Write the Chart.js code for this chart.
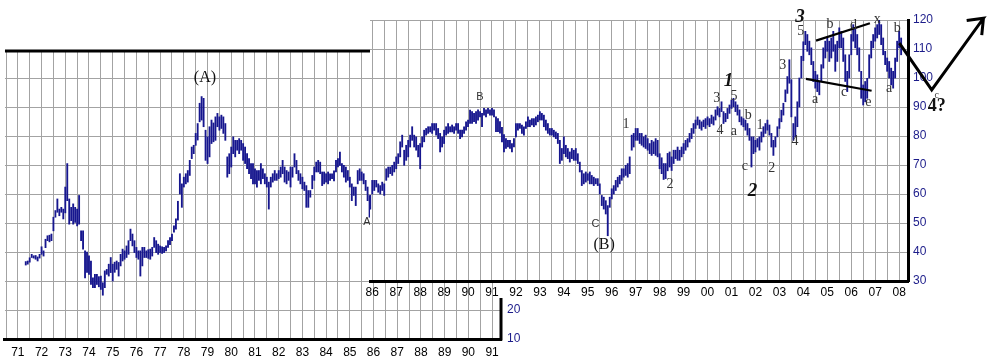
<!DOCTYPE html>
<html>
<head>
<meta charset="utf-8">
<script src="https://cdn.jsdelivr.net/npm/chart.js@4.4.1/dist/chart.umd.min.js"></script>
<style>
  html, body { margin: 0; padding: 0; background: #fff; }
  #wrap { position: relative; width: 989px; height: 357px; overflow: hidden; }
  #left { position: absolute; left: 0; top: 0; }
  #right { position: absolute; left: 360px; top: 0; }
</style>
</head>
<body>
<div id="wrap">
  <canvas id="left" width="545" height="357"></canvas>
  <canvas id="right" width="629" height="300"></canvas>
</div>
<script>
// monthly bars, first one is May 1971 (month index 4 from Jan 1971)
const firstYear = 1971;
const firstMonth = 4;
const leftLastMonth = 186;

const lows = [
  35.5, 35.8, 36.5, 38.1, 37.9, 37.5, 36.9, 37.9,
  39.2, 38.6, 41.5, 43.9, 43.5, 43.9, 47.3, 52.0, 53.7, 52.5, 53.7, 51.4,
  53.5, 57.7, 49.6, 50.8, 49.6, 50.2, 49.0, 49.6, 43.9, 41.0, 31.1, 33.0,
  32.3, 28.8, 27.7, 27.7, 28.8, 28.0, 27.1, 25.1, 27.7, 32.3, 31.7, 32.9,
  30.0, 33.0, 34.0, 31.7, 35.2, 36.9, 37.5, 38.1, 39.2, 43.9, 42.1, 39.8,
  38.1, 37.5, 31.7, 35.2, 38.1, 38.1, 37.8, 37.5, 38.6, 41.6, 39.8, 39.2,
  39.8, 39.5, 39.8, 40.4, 41.6, 42.5, 43.9, 46.8, 47.9, 51.0, 60.0, 55.4,
  62.4, 63.5, 64.1, 66.4, 72.2, 73.9, 76.8, 78.6, 84.9, 85.5, 83.2, 71.6,
  70.5, 72.8, 77.4, 78.0, 78.5, 83.2, 82.0, 82.6, 80.9, 78.5, 65.8, 67.0,
  69.3, 73.9, 72.8, 75.1, 73.9, 75.1, 71.6, 70.5, 68.7, 67.0, 65.3, 63.5,
  63.5, 62.4, 64.7, 63.5, 65.3, 63.5, 62.4, 54.8, 62.4, 64.1, 64.7, 64.7,
  65.3, 65.8, 67.0, 64.1, 63.5, 64.7, 62.4, 65.8, 69.3, 67.0, 64.7, 63.5,
  61.8, 61.2, 55.4, 55.4, 58.9, 61.8, 64.7, 67.6, 67.6, 67.0, 62.9, 63.5,
  64.1, 63.5, 64.7, 65.3, 64.5, 67.6, 69.3, 69.9, 67.6, 65.8, 64.1, 64.7,
  62.4, 57.7, 59.5, 56.0, 63.5, 64.7, 64.7, 63.5, 61.2, 57.7, 52.0, 54.8,
  60.0, 61.2, 62.4, 60.6, 60.0, 61.2, 59.5, 64.7, 65.8, 67.0, 66.4, 67.6,
  68.7, 70.5, 72.8, 76.2, 69.9, 71.6, 72.8, 76.2, 78.5, 76.2, 75.1, 72.8,
  68.7, 76.2, 78.0, 80.3, 80.9, 81.4, 80.9, 82.0, 80.3, 79.1, 74.5, 76.2,
  77.4, 80.3, 80.9, 81.4, 81.4, 80.9, 82.0, 80.9, 79.1, 79.7, 80.9, 82.0,
  83.2, 84.3, 84.3, 84.9, 84.3, 85.5, 86.6, 83.2, 87.2, 86.6, 87.8, 87.2,
  87.2, 86.6, 81.5, 81.5, 81.0, 78.0, 74.5, 75.7, 76.2, 75.7, 74.5, 76.2,
  79.7, 82.0, 82.6, 80.9, 80.3, 82.6, 83.2, 83.2, 83.8, 83.2, 83.8, 84.9,
  85.5, 85.5, 83.2, 82.0, 80.9, 80.3, 80.3, 79.7, 79.1, 77.4, 70.5, 71.6,
  73.9, 72.8, 72.2, 71.0, 72.2, 71.6, 71.6, 70.5, 67.6, 62.9, 63.5, 64.1,
  64.7, 63.5, 63.5, 62.9, 63.5, 62.9, 60.0, 56.0, 54.8, 53.1, 45.6, 55.4,
  58.3, 60.0, 61.2, 62.4, 63.5, 64.7, 65.8, 66.4, 65.8, 67.0, 75.1, 76.2,
  78.5, 78.5, 77.4, 76.8, 76.2, 75.7, 75.1, 73.9, 73.3, 73.9, 73.3, 72.8,
  68.7, 67.0, 65.0, 65.3, 68.0, 69.3, 68.1, 70.5, 72.2, 71.6, 71.6, 72.8,
  73.9, 75.1, 76.2, 77.9, 79.1, 80.9, 82.6, 83.8, 82.6, 82.0, 83.2, 82.6,
  83.8, 83.2, 84.3, 83.8, 85.5, 87.2, 86.6, 88.4, 84.3, 84.9, 86.0, 87.8,
  89.5, 90.1, 88.4, 87.2, 84.9, 83.8, 83.2, 82.0, 80.3, 78.5, 69.3, 73.9,
  74.5, 76.2, 75.1, 77.9, 79.7, 80.9, 82.0, 80.3, 76.2, 73.3, 76.2, 79.7,
  82.6, 84.9, 87.2, 91.8, 94.7, 98.2, 86.6, 78.5, 79.7, 83.2, 90.0, 100.0,
  106.0, 111.5, 109.2, 108.0, 104.6, 98.8, 96.5, 95.3, 94.2, 98.8, 103.4, 106.9,
  109.2, 105.7, 106.9, 109.2, 102.3, 105.7, 110.4, 110.4, 105.7, 98.8, 95.3, 100.0,
  108.0, 112.7, 110.4, 108.0, 102.3, 93.0, 90.7, 91.8, 93.0, 100.0, 106.9, 110.4,
  112.7, 113.8, 115.0, 111.5, 108.0, 104.6, 102.3, 100.0, 97.6, 96.5, 100.0, 105.7,
  110.4, 108.0
];

const highs = [
  36.7, 36.9, 38.0, 39.2, 38.7, 38.8, 38.3, 39.2,
  41.8, 40.4, 44.4, 45.6, 45.8, 46.2, 52.0, 54.3, 58.3, 54.8, 55.4, 54.8,
  62.4, 70.5, 58.3, 55.4, 56.6, 55.4, 54.8, 59.5, 47.3, 47.3, 40.4, 40.0,
  38.7, 36.9, 31.1, 32.3, 32.3, 31.5, 31.7, 29.4, 33.5, 34.0, 35.8, 38.1,
  35.8, 36.5, 36.9, 36.4, 39.2, 41.0, 40.4, 42.1, 43.9, 47.9, 46.2, 43.9,
  41.6, 40.4, 40.4, 41.6, 41.6, 40.4, 40.8, 41.0, 41.6, 45.0, 43.9, 42.7,
  42.1, 41.8, 41.6, 42.1, 43.9, 45.0, 46.2, 49.0, 51.4, 57.5, 67.0, 63.5,
  65.8, 67.0, 68.1, 71.6, 76.2, 76.8, 80.9, 84.3, 91.3, 93.6, 93.0, 82.0,
  79.7, 83.2, 85.5, 84.5, 86.6, 87.8, 86.6, 87.2, 86.6, 84.3, 72.8, 73.9,
  76.2, 79.7, 78.5, 78.5, 79.1, 78.5, 77.4, 76.2, 73.9, 72.2, 70.5, 70.5,
  68.7, 68.1, 68.1, 70.5, 68.7, 67.0, 65.8, 64.1, 65.8, 67.0, 68.1, 67.0,
  68.1, 69.3, 71.6, 69.3, 68.1, 67.6, 69.3, 69.3, 73.9, 71.6, 68.1, 67.0,
  65.8, 64.1, 62.9, 61.2, 61.2, 66.4, 69.3, 71.0, 71.6, 71.0, 67.6, 67.6,
  67.0, 67.6, 67.0, 67.0, 68.0, 71.6, 72.2, 74.5, 70.5, 69.9, 69.3, 68.1,
  65.8, 63.5, 62.4, 62.4, 68.1, 68.7, 67.6, 67.0, 64.7, 62.4, 59.5, 59.5,
  64.7, 64.7, 64.7, 63.5, 62.9, 64.1, 63.5, 68.7, 69.3, 69.3, 69.9, 71.0,
  72.8, 73.9, 78.0, 80.3, 75.1, 76.8, 78.5, 80.3, 83.2, 80.3, 79.7, 76.8,
  77.4, 79.7, 82.0, 82.6, 83.2, 83.2, 84.3, 84.3, 84.3, 82.6, 80.9, 79.7,
  82.0, 83.2, 84.3, 83.2, 83.8, 83.2, 84.3, 84.3, 82.0, 82.0, 83.2, 84.9,
  85.5, 88.9, 88.4, 87.8, 88.4, 89.0, 88.4, 87.8, 89.5, 89.0, 89.5, 89.0,
  89.5, 89.0, 86.6, 86.0, 85.0, 83.0, 80.5, 79.1, 78.5, 78.5, 77.4, 79.1,
  84.3, 84.3, 84.3, 83.8, 83.2, 84.9, 86.6, 85.5, 86.0, 86.0, 86.6, 87.2,
  88.4, 87.8, 87.2, 85.5, 84.3, 82.6, 82.6, 82.0, 81.4, 80.9, 78.5, 75.7,
  79.7, 76.8, 75.7, 74.5, 75.7, 75.1, 75.7, 73.9, 71.0, 68.1, 67.0, 67.6,
  67.0, 67.6, 66.4, 65.8, 65.3, 65.3, 63.5, 59.5, 58.9, 57.7, 56.0, 58.9,
  61.8, 62.9, 64.7, 65.8, 66.4, 68.7, 68.7, 69.9, 70.5, 72.8, 80.3, 80.9,
  82.6, 82.6, 80.9, 80.9, 79.7, 80.3, 79.1, 77.4, 78.5, 78.0, 79.1, 78.5,
  73.9, 72.5, 70.5, 70.5, 74.0, 74.5, 72.8, 75.1, 75.1, 76.2, 75.1, 76.2,
  77.4, 78.5, 79.1, 80.9, 82.6, 84.3, 85.5, 86.6, 85.5, 84.9, 85.5, 86.0,
  86.6, 86.0, 87.2, 86.6, 89.0, 90.1, 89.5, 91.8, 88.4, 87.8, 89.5, 90.7,
  92.4, 93.0, 91.8, 90.7, 89.0, 86.6, 86.0, 85.5, 84.3, 82.6, 79.7, 79.7,
  78.5, 79.1, 79.7, 81.4, 83.2, 84.3, 85.5, 83.8, 80.9, 78.5, 79.7, 83.2,
  86.0, 88.9, 91.3, 95.9, 100.5, 106.3, 99.4, 84.3, 86.6, 91.8, 100.0, 107.5,
  112.5, 116.1, 115.0, 112.7, 110.4, 105.7, 102.3, 101.1, 98.8, 104.6, 110.4, 112.7,
  113.8, 112.7, 113.8, 116.1, 111.5, 112.7, 117.3, 116.1, 113.8, 108.0, 102.3, 108.0,
  115.0, 118.4, 117.3, 115.0, 110.4, 102.3, 97.6, 98.8, 99.9, 108.0, 112.7, 115.0,
  117.3, 118.4, 120.2, 118.4, 113.8, 109.2, 106.9, 105.7, 103.4, 102.3, 106.9, 112.7,
  116.1, 113.8
];

const leftYearLabels = ['71', '72', '73', '74', '75', '76', '77', '78', '79', '80', '81',
  '82', '83', '84', '85', '86', '87', '88', '89', '90', '91'];
const rightYearLabels = ['86', '87', '88', '89', '90', '91', '92', '93', '94', '95', '96', '97',
  '98', '99', '00', '01', '02', '03', '04', '05', '06', '07', '08'];
const rightPriceLabels = [30, 40, 50, 60, 70, 80, 90, 100, 110, 120];
const leftPriceLabels = [10, 20];

// trend lines and the projected path, in (year, price)
const triangleTop = [{ x: 2004.53, y: 112.9 }, { x: 2006.78, y: 118.9 }];
const triangleBottom = [{ x: 2004.11, y: 99.7 }, { x: 2006.85, y: 95.6 }];
const projection = [
  { x: 2008.01, y: 112.0 }, { x: 2009.36, y: 95.9 }, { x: 2011.52, y: 120.6 },
  { x: 2010.82, y: 119.8 }, { x: 2011.52, y: 120.6 }, { x: 2011.45, y: 114.8 }
];

// wave labels: text, year, price, kind
const leftLabels = [
  ['(A)', 1978.89, 100.0, 'paren'],
  ['A', 1985.72, 50.2, 'sans']
];
const rightLabels = [
  ['B', 1990.50, 93.6, 'sans'],
  ['1', 1996.59, 84.0, 'wave'],
  ['C', 1995.32, 49.8, 'sans'],
  ['(B)', 1995.68, 42.6, 'paren'],
  ['2', 1998.43, 63.4, 'wave'],
  ['3', 2000.38, 93.0, 'wave'],
  ['1', 2000.87, 99.1, 'big'],
  ['5', 2001.10, 93.8, 'wave'],
  ['4', 2000.52, 82.1, 'wave'],
  ['a', 2001.10, 81.5, 'wave'],
  ['b', 2001.70, 87.2, 'wave'],
  ['1', 2002.19, 83.8, 'wave'],
  ['c', 2001.56, 69.7, 'wave'],
  ['2', 2002.68, 68.9, 'wave'],
  ['2', 2001.88, 61.1, 'big'],
  ['3', 2003.14, 104.5, 'wave'],
  ['4', 2003.65, 78.0, 'wave'],
  ['3', 2003.86, 121.1, 'big'],
  ['5', 2003.89, 116.0, 'wave'],
  ['b', 2005.11, 118.5, 'wave'],
  ['d', 2006.09, 118.0, 'wave'],
  ['x', 2007.09, 120.3, 'wave'],
  ['b', 2007.92, 117.1, 'wave'],
  ['a', 2004.49, 92.8, 'wave'],
  ['c', 2005.70, 95.1, 'wave'],
  ['e', 2006.71, 91.6, 'wave'],
  ['a', 2007.58, 96.4, 'wave'],
  ['c', 2009.57, 94.1, 'tiny'],
  ['4?', 2009.57, 90.1, 'question']
];

const labelFonts = {
  paren: '16px "Liberation Serif", serif',
  sans: '11px "Liberation Sans", sans-serif',
  wave: '14px "Liberation Serif", serif',
  big: 'italic bold 19px "Liberation Serif", serif',
  tiny: '10px "Liberation Serif", serif',
  question: 'bold 18px "Liberation Serif", serif'
};
const labelColors = { paren: '#111', sans: '#333', wave: '#333', big: '#111', tiny: '#444', question: '#111' };

const barColor = '#16168e';
const gridColor = '#a3a3a3';
const tickFont = { family: "'Liberation Sans', Arial, sans-serif", size: 12 };

const bars = lows.map((lo, i) => ({ x: firstYear + (firstMonth + i) / 12, y: [lo, highs[i]] }));
const leftBars = bars.filter(p => p.x <= firstYear + leftLastMonth / 12);

function stepTicks(from, to, step) {
  const out = [];
  for (let v = from; v <= to + 1e-9; v += step) out.push({ value: v });
  return out;
}

function yearLabel(list, startYear) {
  return v => {
    if (Math.abs(v - Math.round(v)) > 1e-6) return '';
    return list[Math.round(v) - startYear] || '';
  };
}

function labelPlugin(list) {
  return {
    id: 'waveLabels',
    afterDraw(chart) {
      const { ctx } = chart;
      const x = chart.scales.x, y = chart.scales.y;
      ctx.save();
      ctx.textAlign = 'center';
      ctx.textBaseline = 'middle';
      list.forEach(([text, xv, yv, kind]) => {
        ctx.font = labelFonts[kind];
        ctx.fillStyle = labelColors[kind];
        ctx.fillText(text, x.getPixelForValue(xv), y.getPixelForValue(yv));
      });
      ctx.restore();
    }
  };
}

const leftFrame = {
  id: 'leftFrame',
  afterDraw(chart) {
    const { ctx, chartArea: a } = chart;
    ctx.save();
    ctx.strokeStyle = '#000';
    ctx.lineWidth = 3;
    ctx.beginPath();
    ctx.moveTo(a.left, a.top + 1);
    ctx.lineTo(a.right, a.top + 1);
    ctx.moveTo(a.right, a.bottom - 41);
    ctx.lineTo(a.right, a.bottom + 1.5);
    ctx.stroke();
    ctx.restore();
  }
};

const whiteArea = {
  id: 'whiteArea',
  beforeDraw(chart) {
    const { ctx, chartArea: a } = chart;
    ctx.save();
    ctx.fillStyle = '#fff';
    ctx.fillRect(a.left, a.top, a.right - a.left, a.bottom - a.top);
    ctx.restore();
  }
};

// older chart, 1971-1991
new Chart(document.getElementById('left'), {
  type: 'bar',
  data: {
    datasets: [{
      data: leftBars,
      backgroundColor: barColor,
      barThickness: 1.2,
      grouped: false
    }]
  },
  options: {
    responsive: false,
    animation: false,
    layout: { padding: { left: 0, top: 50, right: 0, bottom: 0 }, autoPadding: false },
    plugins: { legend: { display: false }, tooltip: { enabled: false } },
    scales: {
      x: {
        type: 'linear',
        min: 1970.457,
        max: 1991.376,
        offset: false,
        grid: { color: gridColor, drawTicks: false, offset: false },
        border: { display: true, color: '#000', width: 3 },
        afterBuildTicks: s => { s.ticks = stepTicks(1970.5, 1991, 0.5); },
        afterFit: s => { s.height = 18; },
        ticks: { autoSkip: false, maxRotation: 0, padding: 6, color: '#000', font: tickFont,
          callback: yearLabel(leftYearLabels, 1971) }
      },
      y: {
        position: 'right',
        min: 10,
        max: 109.66,
        grid: { color: gridColor, drawTicks: false },
        border: { display: false },
        afterBuildTicks: s => { s.ticks = stepTicks(10, 105, 5); },
        afterFit: s => { s.width = 44; },
        ticks: { padding: 6, color: '#1c1c8a', font: tickFont,
          callback: v => leftPriceLabels.includes(v) ? String(v) : '' }
      }
    }
  },
  plugins: [leftFrame, labelPlugin(leftLabels)]
});

// newer chart, 1986-2008, laid over the first
new Chart(document.getElementById('right'), {
  type: 'bar',
  data: {
    datasets: [
      { type: 'bar', data: bars, backgroundColor: barColor, barThickness: 1.2, grouped: false, order: 2 },
      { type: 'line', data: triangleTop, borderColor: '#000', borderWidth: 2.2, pointRadius: 0, order: 1 },
      { type: 'line', data: triangleBottom, borderColor: '#000', borderWidth: 2.2, pointRadius: 0, order: 1 },
      { type: 'line', data: projection, borderColor: '#000', borderWidth: 3, pointRadius: 0,
        clip: false, borderJoinStyle: 'miter', order: 1 }
    ]
  },
  options: {
    responsive: false,
    animation: false,
    layout: { padding: { left: 10, top: 20, right: 0, bottom: 0 }, autoPadding: false },
    plugins: { legend: { display: false }, tooltip: { enabled: false } },
    scales: {
      x: {
        type: 'linear',
        min: 1985.906,
        max: 2008.37,
        offset: false,
        grid: { color: gridColor, drawTicks: false, offset: false },
        border: { display: true, color: '#000', width: 3 },
        afterBuildTicks: s => { s.ticks = stepTicks(1986, 2008, 0.5); },
        afterFit: s => { s.height = 19; },
        ticks: { autoSkip: false, maxRotation: 0, padding: 4, color: '#000', font: tickFont,
          callback: yearLabel(rightYearLabels, 1986) }
      },
      y: {
        position: 'right',
        min: 30,
        max: 120,
        grid: { color: gridColor, drawTicks: false },
        border: { display: true, color: '#000', width: 3 },
        afterBuildTicks: s => { s.ticks = stepTicks(30, 120, 5); },
        afterFit: s => { s.width = 81; },
        ticks: { padding: 5, color: '#1c1c8a', font: tickFont,
          callback: v => rightPriceLabels.includes(v) ? String(v) : '' }
      }
    }
  },
  plugins: [whiteArea, labelPlugin(rightLabels)]
});
</script>
</body>
</html>
